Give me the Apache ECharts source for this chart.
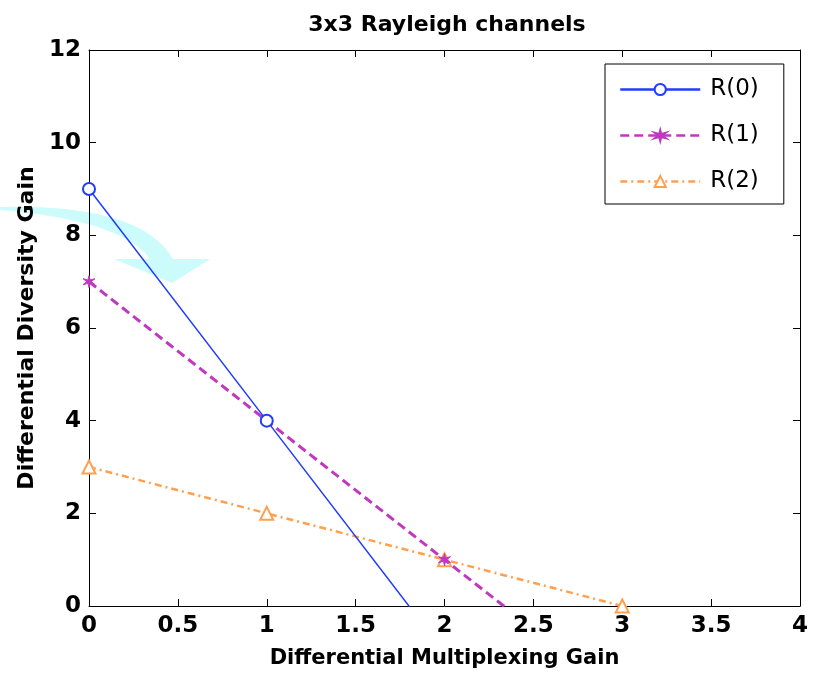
<!DOCTYPE html>
<html>
<head>
<meta charset="utf-8">
<script src="https://cdn.jsdelivr.net/npm/echarts@6/dist/echarts.min.js"></script>
<style>html,body{margin:0;padding:0;background:#fff;}#c{width:814px;height:674px;}</style>
</head>
<body>
<div id="c"></div>
<script>
const titleText = '3x3 Rayleigh channels';
const xName = 'Differential Multiplexing Gain';
const yName = 'Differential Diversity Gain';
const seriesNames = ['R(0)', 'R(1)', 'R(2)'];
const xValues = [0, 1, 2, 3];
const r0 = [9, 4, -1];
const r1 = [7, 4, 1, -2];
const r2 = [3, 2, 1, 0];

function pairs(vals) { return vals.map((v, i) => [xValues[i], v]); }

const FONT = '"DejaVu Sans", "Liberation Sans", Arial, sans-serif';
const starPath = 'path://M50,0 L58,36 L93,25 L66,50 L93,75 L58,64 L50,100 L42,64 L7,75 L34,50 L7,25 L42,36 Z';

// decorative curved arrow outline (sampled cubic curves)
function cubic(p0, p1, p2, p3, n) {
  const out = [];
  for (let i = 0; i <= n; i++) {
    const t = i / n, u = 1 - t;
    out.push([
      u*u*u*p0[0] + 3*u*u*t*p1[0] + 3*u*t*t*p2[0] + t*t*t*p3[0],
      u*u*u*p0[1] + 3*u*u*t*p1[1] + 3*u*t*t*p2[1] + t*t*t*p3[1]
    ]);
  }
  return out;
}
const arrowPts = [].concat(
  cubic([0, 207], [90, 205], [150, 220], [173, 259], 40),
  [[210, 259], [172, 283], [114, 259]],
  cubic([150, 259], [135, 238], [95, 218], [0, 210], 40)
);

const chart = echarts.init(document.getElementById('c'), null, {renderer: 'canvas'});
const tickCommon = {show: true, inside: true, length: 7, lineStyle: {color: '#000', width: 1}};
const lineCommon = {show: true, onZero: false, lineStyle: {color: '#000', width: 1}};

chart.setOption({
  animation: false,
  backgroundColor: '#fff',
  title: {
    text: titleText, left: 442, top: 9, textAlign: 'center',
    textStyle: {fontFamily: FONT, fontSize: 22, fontWeight: 'bold', color: '#000'}
  },
  grid: {left: 89, right: 14, top: 50, bottom: 65, containLabel: false},
  legend: {
    orient: 'vertical', left: 605, top: 64,
    padding: [14, 25, 11, 14],
    itemWidth: 80, itemHeight: 14, itemGap: 23,
    borderColor: '#000', borderWidth: 1, backgroundColor: '#fff',
    lineStyle: {width: 2.5},
    textStyle: {fontFamily: FONT, fontSize: 23, lineHeight: 20, color: '#000', padding: [0, 0, 0, 5]},
    data: seriesNames
  },
  xAxis: [{
    type: 'value', min: 0, max: 4, interval: 0.5,
    name: xName, nameLocation: 'middle', nameGap: 42,
    nameTextStyle: {fontFamily: FONT, fontSize: 21, fontWeight: 'bold', color: '#000'},
    axisLine: lineCommon, axisTick: tickCommon, splitLine: {show: false},
    axisLabel: {fontFamily: FONT, fontSize: 23, fontWeight: 'bold', color: '#000', margin: 9}
  }, {
    type: 'value', min: 0, max: 4, interval: 0.5, position: 'top',
    axisLine: lineCommon, axisTick: tickCommon, splitLine: {show: false}, axisLabel: {show: false}
  }],
  yAxis: [{
    type: 'value', min: 0, max: 12, interval: 2,
    name: yName, nameLocation: 'middle', nameGap: 45,
    nameTextStyle: {fontFamily: FONT, fontSize: 22, fontWeight: 'bold', color: '#000'},
    axisLine: lineCommon, axisTick: tickCommon, splitLine: {show: false},
    axisLabel: {fontFamily: FONT, fontSize: 23, fontWeight: 'bold', color: '#000', margin: 8}
  }, {
    type: 'value', min: 0, max: 12, interval: 2, position: 'right',
    axisLine: lineCommon, axisTick: tickCommon, splitLine: {show: false}, axisLabel: {show: false}
  }],
  graphic: [{
    type: 'polygon', z: -1,
    shape: {points: arrowPts},
    style: {fill: '#ccfbfb'}
  }],
  series: [{
    name: seriesNames[0], type: 'line', data: pairs(r0), clip: true, z: 5,
    symbol: 'emptyCircle', symbolSize: 12,
    lineStyle: {color: '#1f3cff', width: 1.5, type: 'solid'},
    itemStyle: {color: '#1f3cff', borderColor: '#1f3cff', borderWidth: 2}
  }, {
    name: seriesNames[1], type: 'line', data: pairs(r1), clip: true, z: 4,
    symbol: starPath, symbolSize: 12,
    lineStyle: {color: '#c038c0', width: 3, type: [9, 5]},
    itemStyle: {color: '#c038c0', borderColor: '#c038c0', borderWidth: 1}
  }, {
    name: seriesNames[2], type: 'line', data: pairs(r2), clip: true, z: 3,
    symbol: 'triangle', symbolSize: 13,
    lineStyle: {color: '#ffa050', width: 2.5, type: [7, 4, 2, 4]},
    itemStyle: {color: '#fff', borderColor: '#ffa050', borderWidth: 2}
  }]
});
</script>
</body>
</html>
